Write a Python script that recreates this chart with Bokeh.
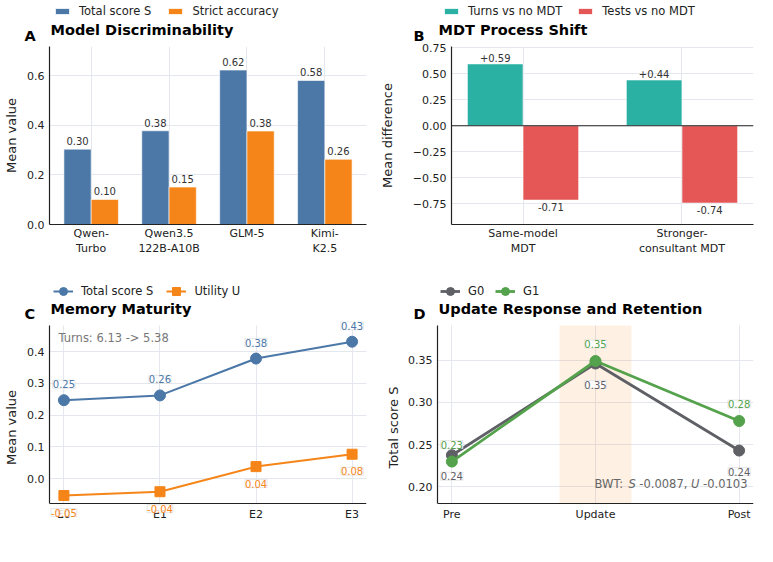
from bokeh.plotting import figure
from bokeh.models import (ColumnDataSource, LabelSet, Label, Legend, LegendItem, FixedTicker,
                          CustomJSTickFormatter, Span, BoxAnnotation, Range1d, Grid)
from bokeh.core.properties import value
from bokeh.layouts import column, row
from bokeh.embed import file_html
from bokeh.resources import INLINE

FONT = "DejaVu Sans"
NAN = float("nan")

# ---------------- data ----------------
# Panel A
models = ["Qwen-\nTurbo", "Qwen3.5\n122B-A10B", "GLM-5", "Kimi-\nK2.5"]
total_score = [0.304, 0.378, 0.623, 0.581]
strict_acc = [0.101, 0.151, 0.377, 0.263]
a_yticks = [0.0, 0.2, 0.4, 0.6]

# Panel B
mdt_settings = ["Same-model\nMDT", "Stronger-\nconsultant MDT"]
turns_diff = [0.593, 0.439]
tests_diff = [-0.714, -0.742]
b_yticks = [-0.75, -0.5, -0.25, 0.0, 0.25, 0.5, 0.75]

# Panel C
stages = ["E0", "E1", "E2", "E3"]
mem_score = [0.247, 0.262, 0.378, 0.431]
mem_utility = [-0.053, -0.041, 0.038, 0.077]
c_yticks = [0.0, 0.1, 0.2, 0.3, 0.4]

# Panel D
phases = ["Pre", "Update", "Post"]
g0_score = [0.2375, 0.346, 0.243]
g1_score = [0.230, 0.349, 0.278]
d_yticks = [0.20, 0.25, 0.30, 0.35]

BLUE = "#4c78a8"
ORANGE = "#f58518"
TEAL = "#2bb1a3"
RED = "#e45756"
GREY = "#5f6066"
GREEN = "#54a24b"
GRID = "#e4e7ee"
HAS_CROSS = "cross_bounds" in Grid.properties()


def make_fig(width, height, left, right, top, bottom, xr, yr, n, xlabels, yticks, ylabel,
             ydec, lab_standoff, x_standoff):
    p = figure(width=width, height=height, x_range=Range1d(*xr), y_range=Range1d(*yr),
               output_backend="svg", toolbar_location=None, title_location=None,
               min_border_left=left, min_border_right=right,
               min_border_top=top, min_border_bottom=bottom)
    p.outline_line_color = None
    p.background_fill_color = "white"
    p.border_fill_color = "white"
    xt = FixedTicker(ticks=list(range(n)))
    p.xaxis.ticker = xt
    p.xgrid.ticker = xt
    p.xaxis.major_label_overrides = {i: lab for i, lab in enumerate(xlabels)}
    yt = FixedTicker(ticks=yticks)
    p.yaxis.ticker = yt
    p.ygrid.ticker = yt
    p.yaxis.formatter = CustomJSTickFormatter(
        code="return tick.toFixed(%d).replace('-', '\\u2212');" % ydec)
    p.yaxis.axis_label = ylabel
    for ax in (p.xaxis[0], p.yaxis[0]):
        ax.axis_line_color = "#222222"
        ax.axis_line_width = 1.2
        ax.major_tick_line_color = None
        ax.minor_tick_line_color = None
        ax.major_tick_out = 0
        ax.major_tick_in = 0
        ax.minor_tick_out = 0
        ax.minor_tick_in = 0
        ax.major_label_text_font = FONT
        ax.major_label_text_font_size = "11px"
        ax.major_label_text_color = "#222222"
        ax.axis_label_text_font = FONT
        ax.axis_label_text_font_size = "13px"
        ax.axis_label_text_font_style = "normal"
        ax.axis_label_text_color = "#222222"
        ax.major_label_standoff = 5
        ax.axis_label_standoff = lab_standoff
    p.xaxis.major_label_standoff = x_standoff
    p.grid.grid_line_color = GRID
    p.grid.grid_line_width = 1
    return p


def extended_range(lo, hi, vis_px, top_px, bot_px):
    # the frame reaches a little beyond the drawn axes so that value labels are not cut
    ppu = vis_px / (hi - lo)
    return (lo - bot_px / ppu, hi + top_px / ppu)


def bound_axes(p, lo, hi):
    p.xaxis.fixed_location = lo
    p.yaxis.bounds = (lo, hi)
    if HAS_CROSS:
        p.xgrid.cross_bounds = (lo, hi)


def make_header(width, height):
    h = figure(width=width, height=height, x_range=Range1d(0, 1), y_range=Range1d(0, 1),
               output_backend="svg", toolbar_location=None, title_location=None,
               x_axis_location=None, y_axis_location=None, min_border=0)
    h.outline_line_color = None
    h.grid.visible = False
    h.background_fill_color = "white"
    h.border_fill_color = "white"
    return h


def add_text(p, text, vx, vy, size, style="normal", color="black", align="left",
             baseline="middle"):
    p.add_layout(Label(x=vx, y=vy, x_units="screen", y_units="screen", text=text,
                       text_font=FONT, text_font_size=size, text_font_style=style,
                       text_color=color, text_align=align, text_baseline=baseline))


def add_legend(p, items, vx, vy, glyph_w, glyph_h, spacing):
    leg = Legend(items=items, orientation="horizontal", location=(vx, vy),
                 padding=0, margin=0, spacing=spacing, label_standoff=8,
                 glyph_width=glyph_w, glyph_height=glyph_h, label_height=14,
                 border_line_color=None, background_fill_alpha=0,
                 label_text_font=FONT, label_text_font_size="11.5px",
                 label_text_color="#222222")
    p.add_layout(leg, "center")


def boxed_labels(p, src, x, y, text, color, yoff):
    p.add_layout(LabelSet(x=x, y=y, text=text, source=src, y_offset=yoff,
                          text_align="center", text_baseline="middle",
                          text_font=value(FONT), text_font_size=value("10px"),
                          text_color=color,
                          background_fill_color="white", background_fill_alpha=0.85,
                          border_line_color="#d9d9d9", border_line_alpha=0.8,
                          border_line_width=0.8))


def plain_labels(p, src, x, y, text, yoff, baseline):
    p.add_layout(LabelSet(x=x, y=y, text=text, source=src, y_offset=yoff,
                          text_align="center", text_baseline=baseline,
                          text_font=value(FONT), text_font_size=value("10px"),
                          text_color="#333333"))


W = 0.35

# ================= top header (titles, letters, legends of A and B) =================
h1 = make_header(773, 42)
ha1 = h1.vbar(x=[NAN], top=[NAN], width=W, fill_color=BLUE, line_color="white")
ha2 = h1.vbar(x=[NAN], top=[NAN], width=W, fill_color=ORANGE, line_color="white")
hb1 = h1.vbar(x=[NAN], top=[NAN], width=W, fill_color=TEAL, line_color="white")
hb2 = h1.vbar(x=[NAN], top=[NAN], width=W, fill_color=RED, line_color="white")
add_legend(h1, [LegendItem(label="Total score S", renderers=[ha1]),
                LegendItem(label="Strict accuracy", renderers=[ha2])], 53, 24, 18, 8, 15)
add_legend(h1, [LegendItem(label="Turns vs no MDT", renderers=[hb1]),
                LegendItem(label="Tests vs no MDT", renderers=[hb2])], 442, 24, 18, 8, 14)
add_text(h1, "Model Discriminability", 50, 13, "14.5px", "bold")
add_text(h1, "MDT Process Shift", 438, 13, "14.5px", "bold")
add_text(h1, "A", 24, 7, "14.5px", "bold")
add_text(h1, "B", 413, 7, "14.5px", "bold")

# ---------------- Panel A ----------------
pa = make_fig(376, 228, 49, 10, 4, 46, (-0.535, 3.535), (0, 0.718), len(models), models,
              a_yticks, "Mean value", 1, 5, 2)
srcA = ColumnDataSource(dict(
    xs=[i - W / 2 for i in range(len(models))], xo=[i + W / 2 for i in range(len(models))],
    s=total_score, a=strict_acc,
    ls=["%.2f" % v for v in total_score], la=["%.2f" % v for v in strict_acc]))
pa.vbar(x="xs", top="s", width=W, source=srcA, fill_color=BLUE, line_color="white",
        line_width=0.6)
pa.vbar(x="xo", top="a", width=W, source=srcA, fill_color=ORANGE, line_color="white",
        line_width=0.6)
plain_labels(pa, srcA, "xs", "s", "ls", 4, "bottom")
plain_labels(pa, srcA, "xo", "a", "la", 4, "bottom")

# ---------------- Panel B ----------------
pb = make_fig(397, 228, 61, 20, 4, 46, (-0.45, 1.45), (-0.948, 0.76), len(mdt_settings),
              mdt_settings, b_yticks, "Mean difference", 2, 15, 2)
srcB = ColumnDataSource(dict(
    xs=[i - W / 2 for i in range(len(mdt_settings))],
    xo=[i + W / 2 for i in range(len(mdt_settings))],
    t=turns_diff, e=tests_diff,
    lt=["%+.2f" % v for v in turns_diff], le=["%+.2f" % v for v in tests_diff]))
pb.vbar(x="xs", top="t", bottom=0, width=W, source=srcB, fill_color=TEAL,
        line_color="white", line_width=0.6)
pb.vbar(x="xo", top=0, bottom="e", width=W, source=srcB, fill_color=RED,
        line_color="white", line_width=0.6)
pb.add_layout(Span(location=0, dimension="width", line_color="#222222", line_width=1.1))
plain_labels(pb, srcB, "xs", "t", "lt", 2, "bottom")
plain_labels(pb, srcB, "xo", "e", "le", -3, "top")

# ================= bottom header (titles, letters, legends of C and D) =================
h2 = make_header(773, 51)
hc1 = h2.line(x=[NAN], y=[NAN], line_color=BLUE, line_width=2)
hc1m = h2.scatter(x=[NAN], y=[NAN], marker="circle", fill_color=BLUE, line_color=BLUE)
hc2 = h2.line(x=[NAN], y=[NAN], line_color=ORANGE, line_width=2)
hc2m = h2.scatter(x=[NAN], y=[NAN], marker="square", fill_color=ORANGE, line_color=ORANGE)
hd0 = h2.line(x=[NAN], y=[NAN], line_color=GREY, line_width=2.8)
hd0m = h2.scatter(x=[NAN], y=[NAN], marker="circle", fill_color=GREY, line_color=GREY)
hd1 = h2.line(x=[NAN], y=[NAN], line_color=GREEN, line_width=2.8)
hd1m = h2.scatter(x=[NAN], y=[NAN], marker="circle", fill_color=GREEN, line_color=GREEN)
add_legend(h2, [LegendItem(label="Total score S", renderers=[hc1, hc1m]),
                LegendItem(label="Utility U", renderers=[hc2, hc2m])], 53, 18.5, 20, 24, 13)
add_legend(h2, [LegendItem(label="G0", renderers=[hd0, hd0m]),
                LegendItem(label="G1", renderers=[hd1, hd1m])], 440, 18.5, 20, 24, 7)
add_text(h2, "Memory Maturity", 50, 12.7, "14.5px", "bold")
add_text(h2, "Update Response and Retention", 438, 12.7, "14.5px", "bold")
add_text(h2, "C", 24, 7.5, "14.5px", "bold")
add_text(h2, "D", 413, 7.5, "14.5px", "bold")

# ---------------- Panel C ----------------
VIS = 178.3      # drawn height of the lower panels, in px
EXT_T, EXT_B = 4, 29.7
c_lo, c_hi = -0.079, 0.482
pc = make_fig(376, 241, 49, 10, 0, 29, (-0.15, 3.15),
              extended_range(c_lo, c_hi, VIS, EXT_T, EXT_B),
              len(stages), stages, c_yticks, "Mean value", 1, 5, 4)
bound_axes(pc, c_lo, c_hi)
srcC = ColumnDataSource(dict(
    x=list(range(len(stages))), s=mem_score, u=mem_utility,
    ls=["%.2f" % v for v in mem_score], lu=["%.2f" % v for v in mem_utility]))
pc.line("x", "s", source=srcC, line_color=BLUE, line_width=2)
pc.scatter("x", "s", source=srcC, marker="circle", size=11, fill_color=BLUE, line_color=BLUE)
pc.line("x", "u", source=srcC, line_color=ORANGE, line_width=2)
pc.scatter("x", "u", source=srcC, marker="square", size=10, fill_color=ORANGE,
           line_color=ORANGE)
boxed_labels(pc, srcC, "x", "s", "ls", BLUE, 16)
boxed_labels(pc, srcC, "x", "u", "lu", ORANGE, -17)
add_text(pc, "Turns: 6.13 -> 5.38", 9, EXT_B + VIS - 12, "11.5px", color="#777777")

# ---------------- Panel D ----------------
d_lo, d_hi = 0.18, 0.391
pd_ = make_fig(397, 241, 61, 20, 0, 29, (-0.1, 2.1),
               extended_range(d_lo, d_hi, VIS, EXT_T, EXT_B),
               len(phases), phases, d_yticks, "Total score S", 2, 4, 4)
bound_axes(pd_, d_lo, d_hi)
upd = phases.index("Update")
pd_.add_layout(BoxAnnotation(left=upd - 0.25, right=upd + 0.25, bottom=d_lo, top=d_hi,
                             fill_color=ORANGE, fill_alpha=0.12, line_color=None,
                             level="underlay"))
srcD = ColumnDataSource(dict(
    x=list(range(len(phases))), g0=g0_score, g1=g1_score,
    l0=["%.2f" % v for v in g0_score], l1=["%.2f" % v for v in g1_score]))
pd_.line("x", "g0", source=srcD, line_color=GREY, line_width=2.8)
pd_.scatter("x", "g0", source=srcD, marker="circle", size=11, fill_color=GREY,
            line_color=GREY)
pd_.line("x", "g1", source=srcD, line_color=GREEN, line_width=2.8)
pd_.scatter("x", "g1", source=srcD, marker="circle", size=11, fill_color=GREEN,
            line_color=GREEN)
boxed_labels(pd_, srcD, "x", "g0", "l0", GREY, -21)
boxed_labels(pd_, srcD, "x", "g1", "l1", GREEN, 17)

# BWT note, with italic S and U, right-aligned near the drawn frame's right edge
adv = {"B": 1405, "W": 2025, "T": 1251, ":": 690, " ": 651, "S": 1300, "-": 739, "0": 1303,
       "1": 1303, "3": 1303, "7": 1303, "8": 1303, ".": 651, ",": 651, "U": 1498}
pieces = [("BWT: ", "normal"), ("S", "italic"), (" -0.0087, ", "normal"), ("U", "italic"),
          (" -0.0103", "normal")]
fs = 11.5
widths = [sum(adv[c] for c in t) / 2048 * fs for t, _ in pieces]
xcur = 310 - sum(widths)
for (t, st), w in zip(pieces, widths):
    lead = (len(t) - len(t.lstrip())) * adv[" "] / 2048 * fs
    add_text(pd_, t.strip(), xcur + lead, EXT_B + 20, "11.5px", st, color="#666666")
    xcur += w

layout = column(h1, row(pa, pb), h2, row(pc, pd_))
open("out.html", "w").write(file_html(layout, INLINE, "chart"))
